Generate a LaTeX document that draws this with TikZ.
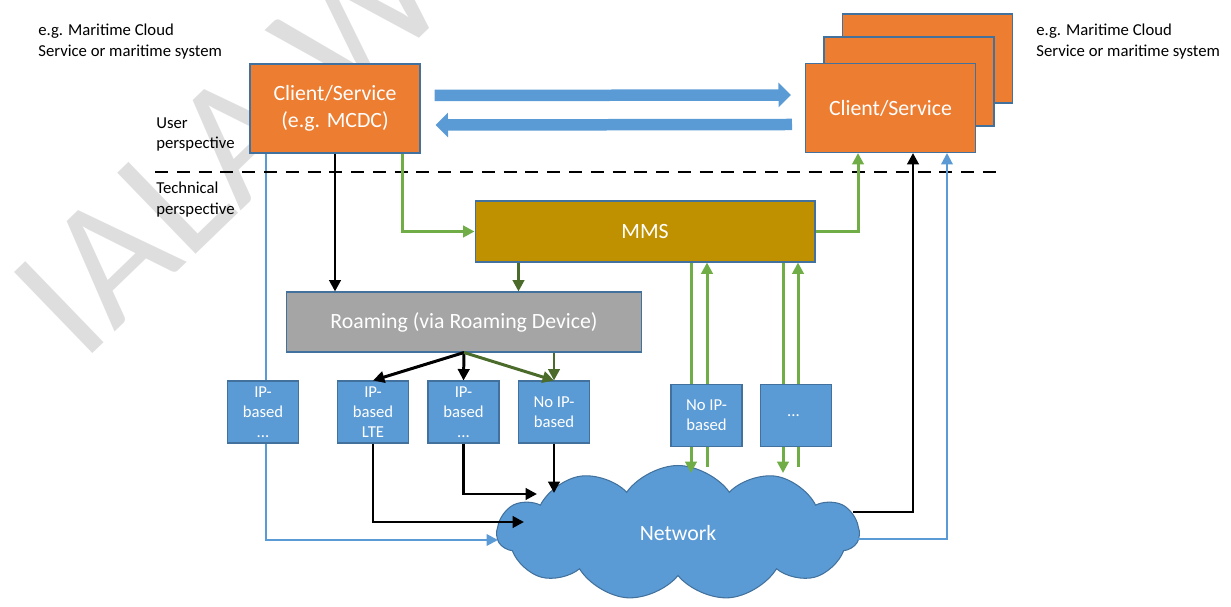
\documentclass[tikz,border=0pt]{standalone}
\usepackage{fontspec}
\setmainfont{Carlito}
\usetikzlibrary{arrows.meta,shapes.symbols,calc}

\definecolor{csorange}{HTML}{ED7D31}
\definecolor{boxline}{HTML}{41719C}
\definecolor{mmsgold}{HTML}{BF9000}
\definecolor{roamgray}{HTML}{A5A5A5}
\definecolor{linkblue}{HTML}{5B9BD5}
\definecolor{linkgreen}{HTML}{70AD47}
\definecolor{darkolive}{HTML}{4A6B2A}

\pgfdeclarelayer{bg}
\pgfsetlayers{bg,main}

\tikzset{
  box/.style={draw=boxline, line width=0.6pt, text=white, align=center, inner sep=2pt},
  bigtext/.style={font=\fontsize{12.4}{15.5}\selectfont},
  smalltext/.style={font=\fontsize{9.5}{11.5}\selectfont},
  client/.style={box, bigtext, fill=csorange, minimum width=3.4cm, minimum height=1.78cm},
  access/.style={box, smalltext, fill=linkblue, minimum width=1.42cm, minimum height=1.24cm},
  tip/.style={-{Triangle[length=6.5pt,width=6.5pt]}},
  blk/.style={tip, line width=1.7pt, black},
  grn/.style={tip, line width=1.7pt, linkgreen},
  blu/.style={tip, line width=1.3pt, linkblue},
  olv/.style={tip, line width=1.7pt, darkolive},
  bigarr/.style={line width=0.23cm, linkblue, -{Triangle[length=0.25cm,width=0.48cm]}},
}

\begin{document}
\begin{tikzpicture}[x=0.02cm, y=-0.02cm]
  \useasboundingbox (0,0) rectangle (1231,607);

  % Watermark
  \begin{pgfonlayer}{bg}
    \node[rotate=44, anchor=base west, inner sep=0, text=black!13,
          font=\fontsize{100}{100}\selectfont] (wmark) at (82,364) {IALA W};
  \end{pgfonlayer}

  % Labels
  \node[smalltext, align=left, anchor=north west, inner sep=0] (lblL) at (38,24) {e.g. Maritime Cloud\\Service or maritime system};
  \node[smalltext, align=left, anchor=north west, inner sep=0] (lblR) at (1036,24) {e.g. Maritime Cloud\\Service or maritime system};
  \node[smalltext, align=left, anchor=north west, inner sep=0] (user) at (156,117) {User\\perspective};
  \node[smalltext, align=left, anchor=north west, inner sep=0] (tech) at (156,182) {Technical\\perspective};

  % Client / Service
  \node[client] (cl) at (335,108.5) {Client/Service\\(e.g. MCDC)};
  \node[client] (crC) at (927.5,58.5) {};
  \node[client] (crB) at (909,81.5) {};
  \node[client] (cr) at (890.5,108) {Client/Service};

  % Trennlinie
  \coordinate (dashL) at (155,172);
  \coordinate (dashR) at (1000,172);
  \draw[line width=1.7pt, dash pattern=on 7.4pt off 5pt] (dashL) -- (dashR);

  % MMS und Roaming
  \node[box, bigtext, fill=mmsgold, minimum width=6.8cm, minimum height=1.22cm] (mms) at (645,231.5) {MMS};
  \node[box, bigtext, fill=roamgray, minimum width=7.12cm, minimum height=1.2cm] (rm) at (464,322) {Roaming (via Roaming Device)};

  % Zugangstechnologien
  \foreach \name/\x/\y/\txt in {
      ipA/263/412/{IP-\\based\\...},
      lte/373/412/{IP-\\based\\LTE},
      ipB/463.5/412/{IP-\\based\\...},
      noipA/554/412/{No IP-\\based},
      noipB/706.5/415.5/{No IP-\\based},
      more/796/415.5/{...}
  } {
      \node[access] (\name) at (\x,\y) {\txt};
  }

  % Netzwerk
  \coordinate (netW) at (498,540);
  \coordinate (netL) at (524,522);
  \coordinate (netM) at (537,494);
  \coordinate (netT) at (554,493);
  \coordinate (netA1) at (691,473);
  \coordinate (netA2) at (707,467);
  \coordinate (netB1) at (783,473);
  \coordinate (netB2) at (798,467);
  \coordinate (netE) at (853,512);
  \coordinate (netF) at (858,539);
  \begin{pgfonlayer}{bg}
    \node[cloud, cloud puffs=11, cloud puff arc=110, aspect=2.7, draw=boxline, fill=linkblue,
          line width=0.6pt, minimum width=7.24cm, minimum height=2.7cm, inner sep=0,
          bigtext, text=white] (net) at (678,533) {Network};
    \draw[blu] ([xshift=-1.38cm]cl.south) |- (netW);
    \foreach \c in {A,B} {
        \draw[grn] (mms.south -| net\c1) -- (net\c1);
        \draw[grn] (net\c2) -- (mms.south -| net\c2);
    }
  \end{pgfonlayer}

  % Verbindungen oben
  \coordinate (mmsOut) at ([xshift=0.88cm]mms.south west);
  \draw[blk] (cl.south) -- (cl.south |- rm.north);
  \draw[grn] ([xshift=1.36cm]cl.south) |- (mms.west);
  \draw[olv] (mmsOut) -- (mmsOut |- rm.north);
  \draw[grn] (mms.east) -| ([xshift=-0.65cm]cr.south);
  \draw[blk] (netE) -| ([xshift=0.45cm]cr.south);
  \draw[blu] (netF) -| ([xshift=1.13cm]cr.south);

  % Roaming
  \draw[blk] (rm.south) -- (lte.north);
  \draw[blk] (rm.south) -- (ipB.north);
  \draw[olv] (rm.south) -- (noipA.north);
  \draw[olv] (noipA.north |- rm.south) -- (noipA.north);

  % Verbindungen zum Netzwerk
  \draw[blk] (lte.south) |- (netL);
  \draw[blk] (ipB.south) |- (netM);
  \draw[blk] (noipA.south) -- (netT);

  % Client <-> Client
  \draw[bigarr] ([xshift=0.28cm,yshift=0.26cm]cl.east) -- ([xshift=-0.28cm,yshift=0.26cm]cr.west);
  \draw[bigarr] ([xshift=-0.26cm,yshift=-0.33cm]cr.west) -- ([xshift=0.3cm,yshift=-0.33cm]cl.east);
\end{tikzpicture}
\end{document}
